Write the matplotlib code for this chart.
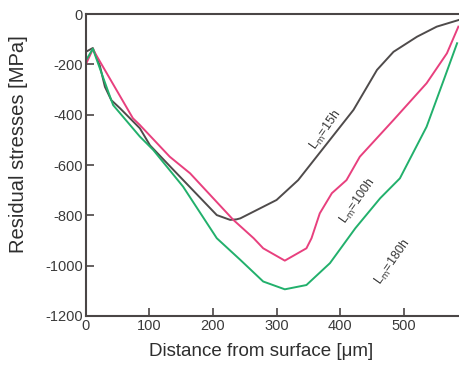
import matplotlib
matplotlib.use("Agg")
import matplotlib.pyplot as plt

plt.rcParams["font.family"] = ["Liberation Sans", "DejaVu Sans"]
plt.rcParams["axes.unicode_minus"] = False

# depth profiles, distance in um / residual stress in MPa
x_15 = [0, 11, 22, 30, 40, 54, 85, 101, 138, 206, 227, 237, 243, 300, 334, 421, 458, 484, 521, 552, 586]
y_15 = [-150, -135, -205, -289, -342, -375, -454, -522, -620, -799, -818, -816, -812, -739, -660, -381, -222, -150, -90, -50, -24]

x_100 = [0, 11, 74, 85, 132, 164, 232, 264, 279, 313, 347, 355, 368, 387, 410, 431, 484, 536, 568, 586]
y_100 = [-200, -140, -414, -441, -567, -633, -818, -891, -931, -980, -931, -891, -792, -712, -660, -567, -421, -275, -156, -50]

x_180 = [0, 11, 38, 43, 85, 106, 153, 206, 243, 279, 313, 347, 384, 424, 463, 494, 536, 563, 584]
y_180 = [-185, -138, -328, -362, -487, -540, -686, -891, -977, -1063, -1094, -1077, -990, -851, -732, -653, -448, -262, -116]

x_ticks = [0, 100, 200, 300, 400, 500]
y_ticks = [0, -200, -400, -600, -800, -1000, -1200]

C15, C100, C180 = "#4f4b4b", "#e8407e", "#22b06c"
AX = "#4a4646"

fig = plt.figure(figsize=(4.59, 3.70), dpi=100)
ax = fig.add_axes([0.187, 0.146, 0.813, 0.816])

ax.plot(x_15, y_15, color=C15, lw=1.4)
ax.plot(x_100, y_100, color=C100, lw=1.4)
ax.plot(x_180, y_180, color=C180, lw=1.4)

ax.set_xlim(0, 587)
ax.set_ylim(-1200, 0)
ax.set_xticks(x_ticks)
ax.set_yticks(y_ticks)
ax.tick_params(direction="in", length=6, width=1.2, color=AX,
               labelsize=10.5, labelcolor="#3a3a3a", pad=2)
for side in ("left", "bottom", "top"):
    ax.spines[side].set_color(AX)
    ax.spines[side].set_linewidth(1.5)
ax.spines["right"].set_visible(False)

ax.set_xlabel("Distance from surface [\u03bcm]", fontsize=13.5, color="#2e2e2e")
ax.set_ylabel("Residual stresses [MPa]", fontsize=14.5, color="#2e2e2e")
ax.xaxis.set_label_coords(0.469, -0.088)
ax.yaxis.set_label_coords(-0.155, 0.57)

lab = dict(fontsize=9, color="#3a3a3a", rotation=55, ha="center", va="center")
ax.text(378, -460, r"L$_{\mathrm{m}}$=15h", **lab)
ax.text(428, -745, r"L$_{\mathrm{m}}$=100h", **lab)
ax.text(483, -985, r"L$_{\mathrm{m}}$=180h", **lab)

fig.savefig("out.png", dpi=100)
